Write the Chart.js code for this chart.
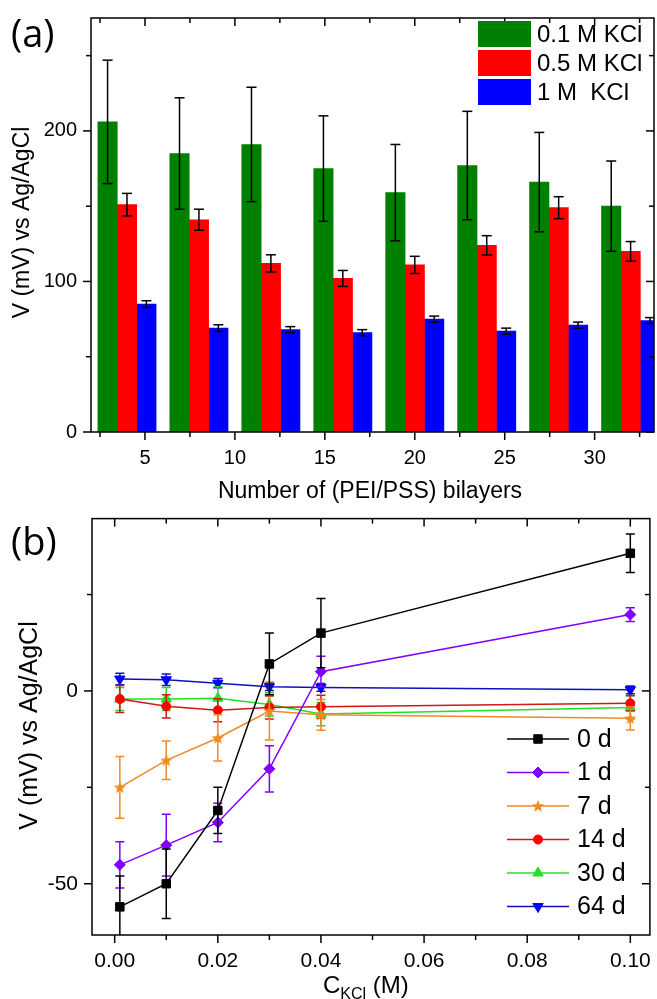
<!DOCTYPE html>
<html><head><meta charset="utf-8">
<script src="https://cdn.jsdelivr.net/npm/chart.js@4.4.1/dist/chart.umd.min.js"></script>
<style>
html,body{margin:0;padding:0;background:#fff;}
body{width:657px;height:999px;position:relative;overflow:hidden;}
#ca{position:absolute;left:0;top:0;}
#cb{position:absolute;left:0;top:500px;}
</style></head><body>
<canvas id="ca" width="657" height="505"></canvas>
<canvas id="cb" width="657" height="499"></canvas>
<script>
// ---------- data: panel (a) ----------
const bilayerPositions = [4, 8, 12, 16, 20, 24, 28, 32];
const kcl01 = [206, 185, 191, 175, 159, 177, 166, 150];
const kcl01Err = [41, 37, 38, 35, 32, 36, 33, 30];
const kcl05 = [151, 141, 112, 102, 111, 124, 149, 120];
const kcl05Err = [7.5, 7, 5.7, 5.3, 5.7, 6.4, 7.3, 6.5];
const kcl1 = [85, 69, 68, 66, 75, 67, 71, 74];
const kcl1Err = [2.2, 2.2, 2, 2, 2, 2, 2, 2];
const barLabels = ['0.1 M KCl', '0.5 M KCl', '1 M  KCl'];

// ---------- data: panel (b) ----------
const concKCl = [0.001, 0.01, 0.02, 0.03, 0.04, 0.1];
const day0 = [-56, -50, -31, 7, 15, 35.7];
const day0Err = [8, 9, 6, 8, 9, 5];
const day1 = [-45.1, -40, -34.1, -20.2, 5, 19.8];
const day1Err = [6, 8, 5, 6, 4, 1.8];
const day7 = [-25, -18, -12.2, -5.2, -6.2, -7.1];
const day7Err = [8, 5, 6, 7.5, 4, 3];
const day14 = [-2.1, -4, -5, -4.3, -4.1, -3.2];
const day14Err = [3.5, 3, 3, 3, 3, 2];
const day30 = [-2.1, -2.1, -1.9, -3.5, -6, -4.3];
const day30Err = [3, 3, 3, 3, 3, 3];
const day64 = [3.1, 2.9, 2, 1.1, 0.9, 0.3];
const day64Err = [1.5, 1.5, 1.2, 1, 1, 1];
const dayLabels = ['0 d', '1 d', '7 d', '14 d', '30 d', '64 d'];

// ---------- common ----------
const FONT = "'Liberation Sans', Arial, sans-serif";
Chart.defaults.font.family = FONT;
Chart.defaults.color = '#000';

function starCanvas(color) {
  const c = document.createElement('canvas');
  c.width = 14; c.height = 14;
  const g = c.getContext('2d');
  g.fillStyle = color;
  g.beginPath();
  for (let k = 0; k < 10; k++) {
    const r = k % 2 === 0 ? 6.5 : 2.8;
    const a = -Math.PI / 2 + k * Math.PI / 5;
    const px = 7 + r * Math.cos(a), py = 7.5 + r * Math.sin(a);
    k === 0 ? g.moveTo(px, py) : g.lineTo(px, py);
  }
  g.closePath(); g.fill();
  return c;
}

function line(ctx, x1, y1, x2, y2) {
  ctx.beginPath(); ctx.moveTo(x1, y1); ctx.lineTo(x2, y2); ctx.stroke();
}

const axisFrame = {
  id: 'axisFrame',
  afterDatasetsDraw(chart) {
    const { ctx, chartArea: ca, scales: { x, y } } = chart;
    ctx.save();
    ctx.strokeStyle = '#000'; ctx.lineWidth = 1.5;
    ctx.strokeRect(ca.left, ca.top, ca.right - ca.left, ca.bottom - ca.top);
    x.ticks.forEach(t => {
      const px = x.getPixelForValue(t.value);
      if (px < ca.left - 0.5 || px > ca.right + 0.5) return;
      const len = t.label ? 8 : 5;
      line(ctx, px, ca.bottom, px, ca.bottom + len);
      line(ctx, px, ca.top, px, ca.top + len);
    });
    y.ticks.forEach(t => {
      const py = y.getPixelForValue(t.value);
      if (py < ca.top - 0.5 || py > ca.bottom + 0.5) return;
      const len = t.label ? 8 : 5;
      line(ctx, ca.left, py, ca.left - len, py);
      line(ctx, ca.right, py, ca.right - len, py);
    });
    ctx.restore();
  }
};

function errorBarPlugin(before, capHalf) {
  const draw = (chart, args) => {
    const ds = chart.data.datasets[args.index];
    if (!ds.err) return;
    const { ctx, chartArea: ca } = chart;
    const ys = chart.scales.y;
    ctx.save();
    ctx.beginPath(); ctx.rect(ca.left, ca.top, ca.right - ca.left, ca.bottom - ca.top); ctx.clip();
    ctx.strokeStyle = ds.errColor; ctx.lineWidth = 1.5;
    args.meta.data.forEach((el, i) => {
      const v = ds.data[i].y, e = ds.err[i];
      const x = el.x;
      const yt = ys.getPixelForValue(v + e), yb = ys.getPixelForValue(v - e);
      line(ctx, x, yt, x, yb);
      line(ctx, x - capHalf, yt, x + capHalf, yt);
      line(ctx, x - capHalf, yb, x + capHalf, yb);
    });
    ctx.restore();
  };
  return before ? { id: 'errBefore', beforeDatasetDraw: draw } : { id: 'errAfter', afterDatasetDraw: draw };
}

function tickOpts(size, cb, step, pad) {
  return {
    stepSize: step, includeBounds: false, autoSkip: false, maxRotation: 0, minRotation: 0,
    padding: pad, color: '#000', font: { family: FONT, size: size }, callback: cb
  };
}

// ---------- panel (a) ----------
const barColors = ['#008000', '#ff0000', '#0000ff'];
const barSeries = [kcl01, kcl05, kcl1];
const barErrs = [kcl01Err, kcl05Err, kcl1Err];

const legendA = {
  id: 'legendA',
  afterDraw(chart) {
    const ctx = chart.ctx;
    ctx.save();
    ctx.font = '24px ' + FONT;
    ctx.textBaseline = 'middle'; ctx.textAlign = 'left';
    chart.data.datasets.forEach((ds, i) => {
      const y0 = 21 + i * 29;
      ctx.fillStyle = ds.backgroundColor;
      ctx.fillRect(478, y0, 53, 26);
      ctx.fillStyle = '#000';
      ctx.fillText(ds.label, 537, y0 + 14);
    });
    ctx.restore();
  }
};

const textA = {
  id: 'textA',
  afterDraw(chart) {
    const ctx = chart.ctx;
    ctx.save();
    ctx.fillStyle = '#000';
    ctx.font = "38px 'Open Sans', sans-serif";
    ctx.textBaseline = 'alphabetic'; ctx.textAlign = 'left';
    ctx.fillText('(a)', 11, 47);
    ctx.font = '23px ' + FONT;
    ctx.textAlign = 'center';
    ctx.fillText('Number of (PEI/PSS) bilayers', 370, 498);
    ctx.translate(28.5, 222.5); ctx.rotate(-Math.PI / 2);
    ctx.fillText('V (mV) vs Ag/AgCl', 0, 0);
    ctx.restore();
  }
};

new Chart(document.getElementById('ca'), {
  type: 'bar',
  data: {
    datasets: barSeries.map((s, k) => ({
      label: barLabels[k],
      data: bilayerPositions.map((x, i) => ({ x: x, y: s[i] })),
      err: barErrs[k],
      errColor: '#000',
      backgroundColor: barColors[k],
      borderWidth: 0,
      clip: 0,
      barThickness: 19.4
    }))
  },
  options: {
    responsive: false, animation: false,
    layout: { padding: { left: 0, top: 13, right: 3, bottom: 0 } },
    plugins: { legend: { display: false }, tooltip: { enabled: false } },
    scales: {
      x: {
        type: 'linear', min: 2, max: 33.3, offset: false,
        grid: { display: false, drawTicks: true, tickLength: 8 },
        border: { display: false },
        ticks: tickOpts(20, v => (Math.abs(v % 5) < 1e-9 ? String(v) : ''), 2.5, 6),
        afterFit: s => { s.height = 73; }
      },
      y: {
        type: 'linear', min: 0, max: 275,
        grid: { display: false, drawTicks: true, tickLength: 8 },
        border: { display: false },
        ticks: tickOpts(20, v => (v % 100 === 0 ? String(v) : ''), 50, 6),
        afterFit: s => { s.width = 91; }
      }
    }
  },
  plugins: [errorBarPlugin(false, 5), axisFrame, legendA, textA]
});

// ---------- panel (b) ----------
const daySeries = [day0, day1, day7, day14, day30, day64];
const dayErrs = [day0Err, day1Err, day7Err, day14Err, day30Err, day64Err];
const lineColors = ['#000000', '#8000ff', '#f08a24', '#d01818', '#22e022', '#1010c0'];
const markColors = ['#000000', '#8000ff', '#f08a24', '#ff0000', '#22e022', '#0000ff'];
const markStyles = ['rect', 'rectRot', starCanvas('#f08a24'), 'circle', 'triangle', 'triangle'];
const markRadius = [6, 5.5, 6, 4.5, 6, 6];
const markRot = [0, 0, 0, 0, 0, 180];

function drawMarker(ctx, style, r, rot, x, y) {
  if (Chart.helpers && Chart.helpers.drawPoint) {
    Chart.helpers.drawPoint(ctx, { pointStyle: style, radius: r, rotation: rot, borderWidth: 1 }, x, y);
  }
}

const legendB = {
  id: 'legendB',
  afterDraw(chart) {
    const ctx = chart.ctx;
    ctx.save();
    ctx.font = '25px ' + FONT;
    ctx.textBaseline = 'middle'; ctx.textAlign = 'left';
    chart.data.datasets.forEach((ds, i) => {
      const yc = 239 + i * 33.5;
      ctx.strokeStyle = ds.borderColor; ctx.lineWidth = 1.5;
      line(ctx, 507, yc, 569, yc);
      ctx.fillStyle = ds.pointBackgroundColor; ctx.strokeStyle = ds.pointBorderColor; ctx.lineWidth = 1;
      drawMarker(ctx, ds.pointStyle, ds.pointRadius, ds.pointRotation, 538, yc);
      ctx.fillStyle = '#000';
      ctx.fillText(ds.label, 577, yc + 1);
    });
    ctx.restore();
  }
};

const textB = {
  id: 'textB',
  afterDraw(chart) {
    const ctx = chart.ctx;
    ctx.save();
    ctx.fillStyle = '#000';
    ctx.font = "38px 'Open Sans', sans-serif";
    ctx.textBaseline = 'alphabetic'; ctx.textAlign = 'left';
    ctx.fillText('(b)', 11, 55);
    // x title: C_KCl (M)
    ctx.font = '24px ' + FONT;
    ctx.fillText('C', 323, 493);
    let x = 323 + ctx.measureText('C').width;
    ctx.font = '16px ' + FONT;
    ctx.fillText('KCl', x, 499);
    x += ctx.measureText('KCl').width;
    ctx.font = '24px ' + FONT;
    ctx.fillText(' (M)', x, 493);
    // y title
    ctx.font = '25px ' + FONT;
    ctx.textAlign = 'center';
    ctx.translate(36.5, 225.5); ctx.rotate(-Math.PI / 2);
    ctx.fillText('V (mV) vs Ag/AgCl', 0, 0);
    ctx.restore();
  }
};

new Chart(document.getElementById('cb'), {
  type: 'line',
  data: {
    datasets: daySeries.map((s, k) => ({
      label: dayLabels[k],
      data: concKCl.map((x, i) => ({ x: x, y: s[i] })),
      err: dayErrs[k],
      errColor: lineColors[k],
      borderColor: lineColors[k],
      borderWidth: 1.5,
      tension: 0,
      fill: false,
      pointStyle: markStyles[k],
      pointRadius: markRadius[k],
      pointRotation: markRot[k],
      pointBackgroundColor: markColors[k],
      pointBorderColor: markColors[k],
      pointBorderWidth: 1
    }))
  },
  options: {
    responsive: false, animation: false,
    layout: { padding: { left: 0, top: 16, right: 3, bottom: 0 } },
    plugins: { legend: { display: false }, tooltip: { enabled: false } },
    scales: {
      x: {
        type: 'linear', min: -0.0044, max: 0.1038,
        grid: { display: false, drawTicks: true, tickLength: 8 },
        border: { display: false },
        ticks: tickOpts(21, v => (Math.round(v * 100) % 2 === 0 ? v.toFixed(2) : ''), 0.01, 6),
        afterFit: s => { s.height = 64; }
      },
      y: {
        type: 'linear', min: -63.3, max: 44.7,
        grid: { display: false, drawTicks: true, tickLength: 8 },
        border: { display: false },
        ticks: tickOpts(21, v => (Math.round(v) % 50 === 0 ? String(v) : ''), 25, 6),
        afterFit: s => { s.width = 92; }
      }
    }
  },
  plugins: [errorBarPlugin(true, 4.5), axisFrame, legendB, textB]
});
</script>
</body></html>
